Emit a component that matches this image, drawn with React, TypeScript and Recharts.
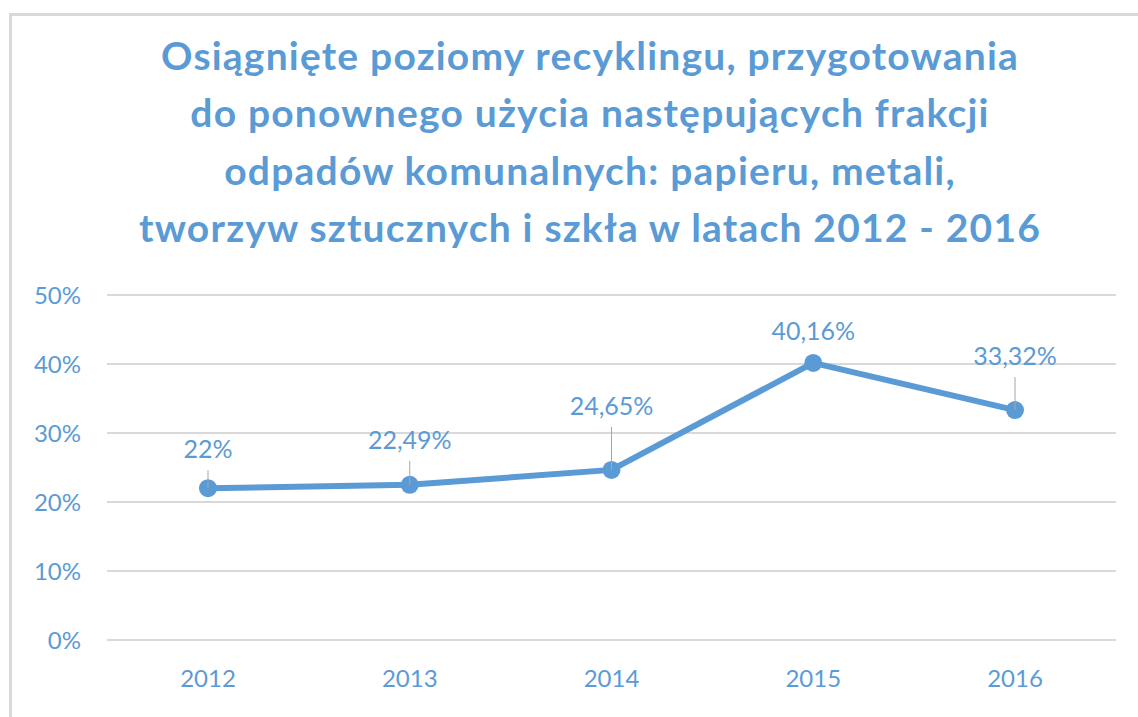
import { LineChart, Line, XAxis, YAxis, CartesianGrid, LabelList } from 'recharts'

const years = ['2012', '2013', '2014', '2015', '2016']
const levels = [22, 22.49, 24.65, 40.16, 33.32]
const valueLabels = ['22%', '22,49%', '24,65%', '40,16%', '33,32%']
const yTicks = [0, 10, 20, 30, 40, 50]
const titleLines = [
  'Osiągnięte poziomy recyklingu, przygotowania',
  'do ponownego użycia następujących frakcji',
  'odpadów komunalnych: papieru, metali,',
  'tworzyw sztucznych i szkła w latach 2012 - 2016',
]

// how far above each point Excel placed the label (px)
const labelLift = [30, 36, 55, 23, 45]

const BLUE = '#5B9BD5'
const FONT = 'Lato, "Open Sans", sans-serif'

const data = years.map((year, i) => ({ year, value: levels[i] }))

const renderLabel = (props: any) => {
  const { x, y, index } = props
  const lift = labelLift[index]
  const baseline = y - lift
  const leaderTop = baseline + 12
  return (
    <g>
      {y - leaderTop > 14 && (
        <line x1={x} y1={leaderTop} x2={x} y2={y} stroke="#a6a6a6" strokeWidth={1} />
      )}
      <text x={x} y={baseline} textAnchor="middle" fill={BLUE} fontSize={25} fontFamily={FONT}>
        {valueLabels[index]}
      </text>
    </g>
  )
}

const App = (): JSX.Element => {
  return (
    <div
      style={{
        position: 'absolute',
        left: 0,
        top: 0,
        width: 1138,
        height: 717,
        overflow: 'hidden',
        background: '#fff',
      }}
    >
      <div
        style={{
          position: 'absolute',
          left: 9,
          top: 13,
          width: 1160,
          height: 740,
          border: '3px solid #d9d9d9',
        }}
      />
      <svg width={1138} height={260} style={{ position: 'absolute', left: 0, top: 0 }}>
        {titleLines.map((line, i) => (
          <text
            key={i}
            x={590}
            y={70 + i * 57.3}
            textAnchor="middle"
            fill={BLUE}
            fontSize={39}
            letterSpacing={1.2}
            fontWeight="bold"
            fontFamily={FONT}
          >
            {line}
          </text>
        ))}
      </svg>
      <div style={{ position: 'absolute', left: 0, top: 0 }}>
        <LineChart
          width={1138}
          height={717}
          data={data}
          margin={{ top: 295, right: 22, left: 0, bottom: 0 }}
        >
          <CartesianGrid vertical={false} stroke="#d9d9d9" strokeWidth={2} />
          <XAxis
            dataKey="year"
            height={77}
            padding={{ left: 101, right: 101 }}
            axisLine={false}
            tickLine={false}
            tickSize={0}
            tickMargin={30}
            tick={{ fill: BLUE, fontSize: 24, fontFamily: FONT }}
          />
          <YAxis
            width={107}
            domain={[0, 50]}
            ticks={yTicks}
            tickFormatter={(v: number) => `${v}%`}
            axisLine={false}
            tickLine={false}
            tickSize={0}
            tickMargin={26}
            tick={{ fill: BLUE, fontSize: 24, fontFamily: FONT }}
          />
          <Line
            dataKey="value"
            isAnimationActive={false}
            stroke={BLUE}
            strokeWidth={6}
            type="linear"
            dot={{ r: 9, fill: BLUE, stroke: BLUE, strokeWidth: 0 }}
          >
            <LabelList dataKey="value" content={renderLabel} />
          </Line>
        </LineChart>
      </div>
    </div>
  )
}

export default App
